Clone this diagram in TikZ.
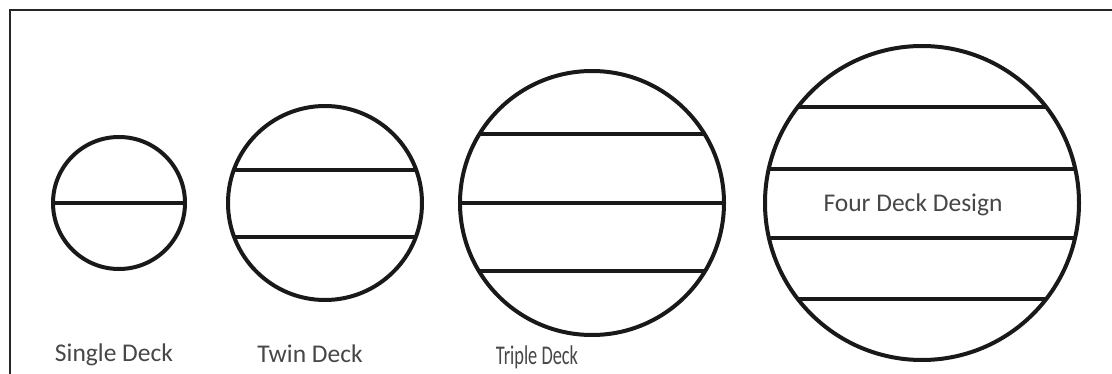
\documentclass[tikz,border=0pt]{standalone}
\usepackage{fontspec}
\setmainfont{Carlito}
\begin{document}
\begin{tikzpicture}[x=1pt,y=-1pt,
  ring/.style={draw=black!90, line width=4pt},
  deck/.style={draw=black!90, line width=3.6pt},
  lbl/.style={text=black!72, font=\fontsize{25.5}{30}\selectfont, inner sep=0pt}]
\useasboundingbox (0,0) rectangle (1112,374);
\fill[white] (0,0) rectangle (1112,374);
% frame
\draw[line width=2.2pt, black!85] (10,374) -- (10,10) -- (1112,10);
% circle centres
\coordinate (c1) at (119,203);
\coordinate (c2) at (325,203);
\coordinate (c3) at (592,203);
\coordinate (c4) at (922,203);
% single deck
\begin{scope}
\clip (c1) circle (66);
\draw[deck] (40,203) -- (200,203);
\end{scope}
\draw[ring] (c1) circle (66);
% twin deck
\begin{scope}
\clip (c2) circle (97);
\draw[deck] (200,170) -- (450,170);
\draw[deck] (200,237) -- (450,237);
\end{scope}
\draw[ring] (c2) circle (97);
% triple deck
\begin{scope}
\clip (c3) circle (132);
\draw[deck] (440,134) -- (740,134);
\draw[deck] (440,203) -- (740,203);
\draw[deck] (440,271) -- (740,271);
\end{scope}
\draw[ring] (c3) circle (132);
% four deck
\begin{scope}
\clip (c4) circle (157);
\draw[deck, line width=4.4pt] (750,107) -- (1100,107);
\draw[deck] (750,169) -- (1100,169);
\draw[deck] (750,238) -- (1100,238);
\draw[deck, line width=4.4pt] (750,299) -- (1100,299);
\end{scope}
\draw[ring] (c4) circle (157);
% labels
\node[lbl] (l1) at (114,355) {Single Deck};
\node[lbl] (l2) at (310,354) {Twin Deck};
\node[lbl, font=\fontsize{27}{32}\selectfont, xscale=0.68] (l3) at (537,357) {Triple Deck};
\node[lbl] (l4) at (913,205) {Four Deck Design};
\end{tikzpicture}
\end{document}
